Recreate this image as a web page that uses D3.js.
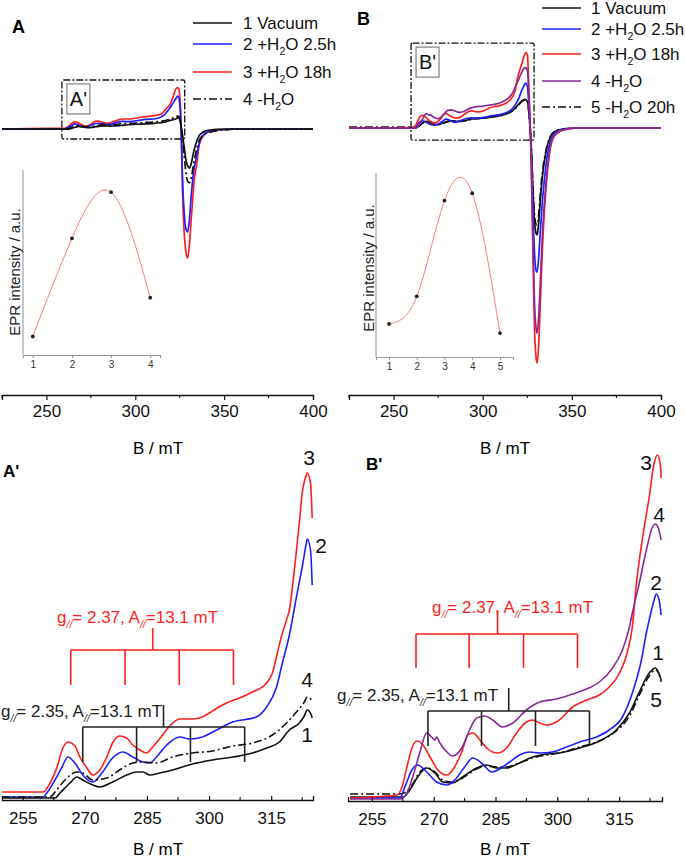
<!DOCTYPE html>
<html><head><meta charset="utf-8">
<script src="https://cdn.jsdelivr.net/npm/d3@7"></script>
<style>body{margin:0;background:#fff} svg{display:block}</style>
</head><body><svg id="c" width="685" height="861"></svg>
<script>
// ---------------- DATA (B in mT, intensity in a.u.) ----------------
const aVac = [[225,0],[250,-1],[262.8,-1],[264.0,4],[266.4,14],[268.1,20],[269.5,17],[271.9,12],[273.6,10],[276.7,15],[280.1,22],[282.5,25],[284.0,25],[285.7,22],[288.1,24],[291.2,27],[296.0,33],[300.8,37],[305.7,40],[310.5,44],[313.9,49],[317.0,55],[319.4,67],[321.8,74],[323.0,81],[323.7,87],[324.7,82],[324.9,79],[325.5,40],[326.3,-20],[327.3,-120],[328.5,-240],[329.5,-290],[330.5,-305],[331.5,-270],[332.5,-200],[334,-120],[336,-50],[338,-25],[341,-10],[350,0],[400,0]];
const aH2O25 = [[225,0],[250,0],[259.9,0],[260.8,4],[262.8,17],[264.5,30],[265.9,40],[267.6,34],[269.5,22],[271.9,15],[274.3,25],[276.7,39],[279.2,45],[281.6,40],[284.0,35],[285.7,34],[287.3,40],[289.8,52],[292.9,60],[295.3,58],[298.4,60],[301.8,67],[305.7,75],[311.4,80],[313.9,90],[316.3,110],[317.7,134],[319.4,162],[321.1,200],[322.5,230],[323.5,254],[323.7,258],[324.5,247],[324.9,212],[325.5,100],[326.0,-100],[326.6,-400],[327.5,-650],[328.5,-780],[329.5,-805],[330.5,-700],[331.5,-520],[332.3,-400],[333.0,-320],[334.3,-230],[336.2,-100],[338,-50],[340.2,-25],[347.5,-6],[360,0],[400,0]];
const aH2O18 = [[225,0],[250,5],[259.9,5],[261.6,14],[263.3,30],[264.5,47],[265.9,55],[267.6,51],[268.8,40],[270.5,29],[271.9,22],[273.6,27],[275.3,40],[276.7,54],[278.4,61],[280.1,59],[281.6,52],[283.3,47],[284.9,44],[286.4,50],[288.8,62],[290.5,71],[292.9,78],[296.0,78],[298.4,80],[300.8,86],[304.2,94],[307.3,99],[310.5,105],[313.9,114],[315.3,124],[316.5,144],[317.7,164],[318.7,177],[319.4,187],[320.6,227],[321.8,274],[322.5,304],[323.5,322],[323.7,324],[324.5,314],[324.9,279],[325.5,150],[326.0,-100],[326.6,-500],[327.5,-800],[328.5,-960],[329.5,-1008],[330.5,-900],[331.5,-700],[332.3,-555],[333.0,-420],[334.3,-300],[336.2,-110],[338,-60],[340.2,-30],[347.5,-8],[360,0],[400,0]];
const aDry = [[225,0],[250,0],[261.6,0],[262.8,5],[265.2,17],[268.1,25],[269.5,24],[271.9,17],[275.3,19],[278.4,27],[281.6,34],[284.0,35],[287.3,34],[291.2,40],[296.0,44],[300.8,46],[305.7,51],[310.5,54],[315.3,62],[318.7,74],[321.1,85],[323.0,95],[323.7,100],[324.7,97],[324.9,95],[325.5,60],[326.3,-30],[327.3,-180],[328.5,-340],[329.5,-410],[330.6,-420],[331.5,-380],[332.5,-300],[334,-190],[336,-90],[338,-50],[341,-30],[345,-15],[352,-5],[360,0],[400,0]];

const bVac = [[225,1],[249.7,1],[262.5,1],[264.2,8],[266.1,21],[268.3,30],[270.3,25],[272.2,16],[274.4,15],[277.0,21],[280.4,30],[282.9,33],[285.3,30],[287.7,30],[290.8,35],[294.0,41],[297.4,44],[300.5,45],[305.4,50],[310.2,57],[314.3,68],[317.5,85],[319.9,106],[322.3,125],[323.8,130],[324.5,126],[325.2,118],[325.8,80],[326.5,10],[327.2,-80],[328.0,-250],[329.0,-420],[330.0,-480],[330.5,-486],[331.3,-440],[332.3,-330],[333.5,-220],[334.8,-140],[336.3,-80],[338,-40],[340,-18],[345,-5],[355,0],[400,0]];
const bH2O25 = [[225,0],[249.7,0],[261.8,0],[263.0,11],[264.7,28],[266.1,33],[268.3,26],[270.7,16],[273.2,13],[275.1,18],[277.5,31],[279.5,40],[281.6,35],[284.1,26],[286.0,29],[288.4,36],[290.8,43],[293.3,46],[295.7,45],[298.8,46],[302.2,51],[305.4,56],[309.5,61],[312.6,68],[315.8,81],[318.2,105],[320.4,138],[321.6,165],[322.3,178],[323.5,198],[324.0,204],[324.7,198],[325.2,183],[325.8,110],[326.5,20],[327.2,-100],[328.0,-320],[329.0,-560],[330.0,-650],[330.5,-655],[331.3,-600],[332.3,-470],[333.5,-330],[334.8,-220],[336.3,-120],[338,-60],[340,-25],[345,-6],[355,0],[400,0]];
const bH2O18 = [[225,0],[249.7,0],[261.1,3],[262.3,11],[263.5,31],[264.7,50],[265.9,57],[267.4,53],[269.1,41],[271.0,28],[273.2,23],[274.6,28],[276.8,46],[278.3,63],[279.5,65],[281.2,58],[283.1,49],[285.5,45],[287.7,50],[290.1,65],[292.5,76],[294.0,78],[295.7,75],[297.6,73],[300.5,78],[303.7,91],[307.1,98],[310.2,103],[312.6,111],[315.1,125],[317.0,146],[318.2,171],[319.2,215],[320.6,258],[322.3,301],[323.5,335],[324.3,343],[325.0,333],[325.2,320],[325.8,200],[326.5,50],[327.2,-150],[328.0,-500],[329.0,-900],[330.0,-1050],[330.5,-1068],[331.3,-1000],[332.3,-800],[333.5,-550],[334.8,-350],[336.3,-200],[338,-90],[340,-40],[345,-10],[355,0],[400,0]];
const bDry = [[225,-1],[249.7,-1],[261.8,-1],[263.5,5],[264.9,21],[266.6,45],[268.3,65],[269.5,61],[270.3,58],[270.7,61],[271.5,55],[273.2,46],[274.6,42],[276.8,50],[278.7,68],[280.4,80],[282.4,82],[284.3,78],[286.7,71],[289.2,75],[292.5,88],[295.7,96],[299.8,99],[303.7,104],[307.1,109],[310.2,116],[313.4,130],[315.8,148],[317.5,171],[318.2,185],[319.9,215],[321.6,248],[323.0,270],[323.8,274],[324.5,270],[325.2,258],[325.8,170],[326.5,40],[327.2,-130],[328.0,-430],[329.0,-780],[330.0,-915],[330.5,-932],[331.3,-870],[332.3,-700],[333.5,-480],[334.8,-320],[336.3,-180],[338,-80],[340,-35],[345,-8],[355,0],[400,0]];
const bDry20 = [[225,4],[249.7,4],[261.8,4],[263.5,7],[264.9,14],[266.6,26],[268.3,30],[270.3,26],[272.2,18],[274.4,16],[277.0,20],[280.4,29],[282.9,32],[285.3,31],[287.7,31],[290.8,35],[294.0,40],[297.4,43],[300.5,45],[305.4,51],[310.2,57],[314.3,67],[317.5,82],[319.9,103],[322.3,122],[323.8,128],[324.7,124],[325.2,116],[325.8,78],[326.5,8],[327.2,-75],[328.0,-230],[329.0,-390],[330.0,-438],[330.5,-441],[331.3,-400],[332.3,-300],[333.5,-200],[334.8,-130],[336.3,-75],[338,-38],[340,-18],[345,-5],[355,0],[400,0]];

const insetAx = [1, 2, 3, 4];
const insetAy = [10, 63, 88, 31];
const insetBx = [1, 2, 3, 4, 5];
const insetBy = [18, 33, 85, 89, 13];

const topTicks = [250, 300, 350, 400];
const topMinor = [225, 275, 325, 375];
const zoomTicks = [255, 270, 285, 300, 315];
const zoomMinor = [262.5, 277.5, 292.5, 307.5, 322.5];

const legendA = ["1 Vacuum", "2 +H{2}O 2.5h", "3 +H{2}O 18h", "4 -H{2}O"];
const legendB = ["1 Vacuum", "2 +H{2}O 2.5h", "3 +H{2}O 18h", "4 -H{2}O", "5 -H{2}O 20h"];
const curveNumsA = ["1", "2", "3", "4"];
const curveNumsB = ["1", "2", "3", "4", "5"];

// hyperfine bracket lines (mT)
const redLinesA = [266.6, 279.7, 292.8, 305.9];
const blackLinesA = [269.5, 282.5, 295.5, 308.6];
const redLinesB = [265.7, 278.6, 291.8, 304.9];
const blackLinesB = [268.6, 281.6, 294.7, 307.8];
const redLabel = "g{//}= 2.37, A{//}=13.1 mT";
const blackLabel = "g{//}= 2.35, A{//}=13.1 mT";

// ---------------- STYLE ----------------
const FONT = '"Liberation Sans", Arial, Helvetica, sans-serif';
const C = {black: "#111", blue: "#1f1fff", red: "#ff1f1f", purple: "#872a98"};
const DASH = "8,3,2,3";
const svg = d3.select("#c").attr("font-family", FONT);

function rich(t, str, fs, italicSub) {
  const parts = str.split(/(\{[^}]*\})/).filter(s => s.length);
  let down = false;
  parts.forEach(p => {
    if (p[0] === "{") {
      const s = t.append("tspan").attr("dy", fs * 0.3).attr("font-size", fs * 0.62).text(p.slice(1, -1));
      if (italicSub) s.attr("font-style", "italic");
      down = true;
    } else {
      const s = t.append("tspan").text(p);
      if (down) { s.attr("dy", -fs * 0.3); down = false; }
    }
  });
}

function drawSeries(g, list, x, y, width, filt) {
  const line = d3.line().x(d => x(d[0])).y(d => y(d[1])).curve(d3.curveMonotoneX);
  list.forEach(s => {
    const data = filt ? s.data.filter(filt) : s.data;
    g.append("path").datum(data).attr("d", line)
      .attr("fill", "none").attr("stroke", s.color).attr("stroke-width", width)
      .attr("stroke-dasharray", s.dash || null).attr("stroke-linejoin", "round");
  });
}

function axisB(g, x, yPos, major, minor, inward, fs) {
  const ax = d3.axisBottom(x).tickValues(major).tickFormat(d3.format("d"))
    .tickSizeOuter(0).tickSize(inward ? -4 : 5).tickPadding(inward ? 12 : 5);
  const a = g.append("g").attr("transform", `translate(0,${yPos})`).call(ax);
  a.select(".domain").attr("stroke", "#111").attr("stroke-width", 1.3);
  a.selectAll(".tick line").attr("stroke", "#111").attr("stroke-width", 1.2);
  a.selectAll(".tick text").attr("font-size", fs).attr("font-family", FONT).attr("fill", "#111");
  minor.forEach(m => {
    g.append("line").attr("x1", x(m)).attr("x2", x(m))
      .attr("y1", yPos).attr("y2", yPos + (inward ? -3 : 3))
      .attr("stroke", "#111").attr("stroke-width", 1.1);
  });
}

function legend(g, labels, styles, x1, x2, tx, rows) {
  labels.forEach((lab, i) => {
    g.append("line").attr("x1", x1).attr("x2", x2).attr("y1", rows[i]).attr("y2", rows[i])
      .attr("stroke", styles[i].color).attr("stroke-width", 1.6).attr("stroke-dasharray", styles[i].dash || null);
    const t = g.append("text").attr("x", tx).attr("y", rows[i] + 6).attr("font-size", 17).attr("fill", "#111");
    rich(t, lab, 17, false);
  });
}

function inset(g, xs, ys, xDom, xRange, yRange, labelPos) {
  const x = d3.scaleLinear().domain(xDom).range(xRange);
  const y = d3.scaleLinear().domain([0, 100]).range(yRange);
  g.append("line").attr("x1", xRange[0]).attr("x2", xRange[0]).attr("y1", yRange[0]).attr("y2", yRange[1])
    .attr("stroke", "#999").attr("stroke-width", 1.1);
  const ax = d3.axisBottom(x).tickValues(xs).tickFormat(d3.format("d")).tickSizeOuter(0).tickSize(3).tickPadding(3);
  const a = g.append("g").attr("transform", `translate(0,${yRange[0]})`).call(ax);
  a.select(".domain").attr("stroke", "#999").attr("stroke-width", 1.1);
  a.selectAll(".tick line").attr("stroke", "#999");
  a.selectAll(".tick text").attr("font-size", 10).attr("font-family", FONT).attr("fill", "#333");
  const pts = xs.map((v, i) => [v, ys[i]]);
  g.append("path").datum(pts)
    .attr("d", d3.line().x(d => x(d[0])).y(d => y(d[1])).curve(d3.curveNatural))
    .attr("fill", "none").attr("stroke", "#ff7b7b").attr("stroke-width", 1);
  g.selectAll(null).data(pts).enter().append("circle")
    .attr("cx", d => x(d[0])).attr("cy", d => y(d[1])).attr("r", 1.9).attr("fill", "#222");
  g.append("text").attr("transform", `translate(${labelPos[0]},${labelPos[1]}) rotate(-90)`)
    .attr("text-anchor", "middle").attr("dominant-baseline", "central")
    .attr("font-size", 15).attr("fill", "#222").text("EPR intensity / a.u.");
}

function zoomBox(g, x, y, b, lab) {
  const x0 = x(b[0]), x1 = x(b[1]), y0 = y(b[2]), y1 = y(b[3]);
  g.append("rect").attr("x", x0).attr("y", y0).attr("width", x1 - x0).attr("height", y1 - y0)
    .attr("fill", "none").attr("stroke", "#111").attr("stroke-width", 1.3).attr("stroke-dasharray", "7,2,2,2").attr("rx", 1.5);
  g.append("rect").attr("x", x0 + 5).attr("y", y0 + 4).attr("width", 23).attr("height", 30)
    .attr("fill", "#fff").attr("stroke", "#666").attr("stroke-width", 1);
  g.append("text").attr("x", x0 + 16.5).attr("y", y0 + 26).attr("text-anchor", "middle")
    .attr("font-size", 20).attr("fill", "#111").text(lab);
}

function bracket(g, x, y, lines, stemB, yText, yStemTop, yBar, yTip, color, label, textX) {
  const p = d3.path();
  p.moveTo(x(stemB), y(yStemTop)); p.lineTo(x(stemB), y(yBar));
  p.moveTo(x(lines[0]), y(yBar)); p.lineTo(x(lines[lines.length - 1]), y(yBar));
  lines.forEach(l => { p.moveTo(x(l), y(yBar)); p.lineTo(x(l), y(yTip)); });
  g.append("path").attr("d", p.toString()).attr("fill", "none").attr("stroke", color).attr("stroke-width", 1.6);
  const t = g.append("text").attr("x", textX).attr("y", y(yText)).attr("font-size", 17).attr("fill", color);
  rich(t, label, 17, true);
}

// ---------------- PANEL A (top left) ----------------
const sA = [
  {data: aH2O18, color: C.red}, {data: aH2O25, color: C.blue},
  {data: aVac, color: C.black}, {data: aDry, color: C.black, dash: DASH}];
const gA = svg.append("g");
const xA = d3.scaleLinear().domain([225, 400]).range([2, 313]);
const yA = d3.scaleLinear().domain([0, 400]).range([129, 129 - 51.2]);
drawSeries(gA, sA, xA, yA, 1.7);
axisB(gA, xA, 395, topTicks, topMinor, false, 17);
gA.append("text").attr("x", 158).attr("y", 454).attr("text-anchor", "middle").attr("font-size", 17).text("B / mT");
gA.append("text").attr("x", 12).attr("y", 33).attr("font-size", 18).attr("font-weight", "bold").text("A");
legend(gA, legendA, [sA[2], sA[1], sA[0], sA[3]], 193, 232, 243, [23, 44, 72, 99]);
zoomBox(gA, xA, yA, [258.7, 327.8, 383, -78], "A'");
inset(gA, insetAx, insetAy, [0.75, 4.25], [23, 160], [355, 170], [14, 272]);

// ---------------- PANEL B (top right) ----------------
const sB = [
  {data: bVac, color: C.black}, {data: bDry20, color: C.black, dash: DASH},
  {data: bH2O25, color: C.blue}, {data: bH2O18, color: C.red}, {data: bDry, color: C.purple}];
const gB = svg.append("g");
const xB = d3.scaleLinear().domain([225, 400]).range([349, 661]);
const yB = d3.scaleLinear().domain([0, 400]).range([128, 128 - 88]);
drawSeries(gB, sB, xB, yB, 1.7);
axisB(gB, xB, 395, topTicks, topMinor, false, 17);
gB.append("text").attr("x", 505).attr("y", 454).attr("text-anchor", "middle").attr("font-size", 17).text("B / mT");
gB.append("text").attr("x", 357).attr("y", 25).attr("font-size", 18).attr("font-weight", "bold").text("B");
legend(gB, legendB, [sB[0], sB[2], sB[3], sB[4], sB[1]], 542, 581, 591, [8, 29, 54, 81, 107]);
zoomBox(gB, xB, yB, [259.8, 328.8, 386, -55], "B'");
inset(gB, insetBx, insetBy, [0.53, 5.47], [376, 513], [357, 173], [368, 268]);

// ---------------- PANEL A' (bottom left) ----------------
const gA2 = svg.append("g");
const xA2 = d3.scaleLinear().domain([250, 325.1]).range([2, 313]);
const yA2 = d3.scaleLinear().domain([0, 330]).range([797, 467]);
drawSeries(gA2, sA, xA2, yA2, 1.6, d => d[0] >= 250 && d[0] <= 325.1);
axisB(gA2, xA2, 800, zoomTicks, zoomMinor, true, 17);
gA2.append("text").attr("x", 158).attr("y", 855).attr("text-anchor", "middle").attr("font-size", 17).text("B / mT");
gA2.append("text").attr("x", 3).attr("y", 477).attr("font-size", 17).attr("font-weight", "bold").text("A'");
bracket(gA2, xA2, yA2, redLinesA, 286.4, 174, 169, 147, 112, C.red, redLabel, 57);
bracket(gA2, xA2, yA2, blackLinesA, 289.0, 80, 92, 70, 35, "#222", blackLabel, 1);
[[curveNumsA[2], 309, 465], [curveNumsA[1], 321, 553], [curveNumsA[3], 307, 687], [curveNumsA[0], 307, 742]]
  .forEach(d => gA2.append("text").attr("x", d[1]).attr("y", d[2]).attr("text-anchor", "middle")
    .attr("font-size", 21).attr("fill", "#111").text(d[0]));

// ---------------- PANEL B' (bottom right) ----------------
const gB2 = svg.append("g");
const xB2 = d3.scaleLinear().domain([249.2, 325.4]).range([348, 662]);
const yB2 = d3.scaleLinear().domain([0, 350]).range([798, 448]);
drawSeries(gB2, sB, xB2, yB2, 1.6, d => d[0] >= 249.2 && d[0] <= 325.4);
axisB(gB2, xB2, 801, zoomTicks, zoomMinor, true, 17);
gB2.append("text").attr("x", 505).attr("y", 855).attr("text-anchor", "middle").attr("font-size", 17).text("B / mT");
gB2.append("text").attr("x", 366).attr("y", 470).attr("font-size", 17).attr("font-weight", "bold").text("B'");
bracket(gB2, xB2, yB2, redLinesB, 285.5, 185, 188, 164, 130, C.red, redLabel, 432);
bracket(gB2, xB2, yB2, blackLinesB, 288.2, 97, 110, 87, 52, "#222", blackLabel, 337);
[[curveNumsB[2], 646, 470], [curveNumsB[3], 659, 522], [curveNumsB[1], 656, 590], [curveNumsB[0], 658, 660], [curveNumsB[4], 656, 707]]
  .forEach(d => gB2.append("text").attr("x", d[1]).attr("y", d[2]).attr("text-anchor", "middle")
    .attr("font-size", 21).attr("fill", "#111").text(d[0]));
</script></body></html>
